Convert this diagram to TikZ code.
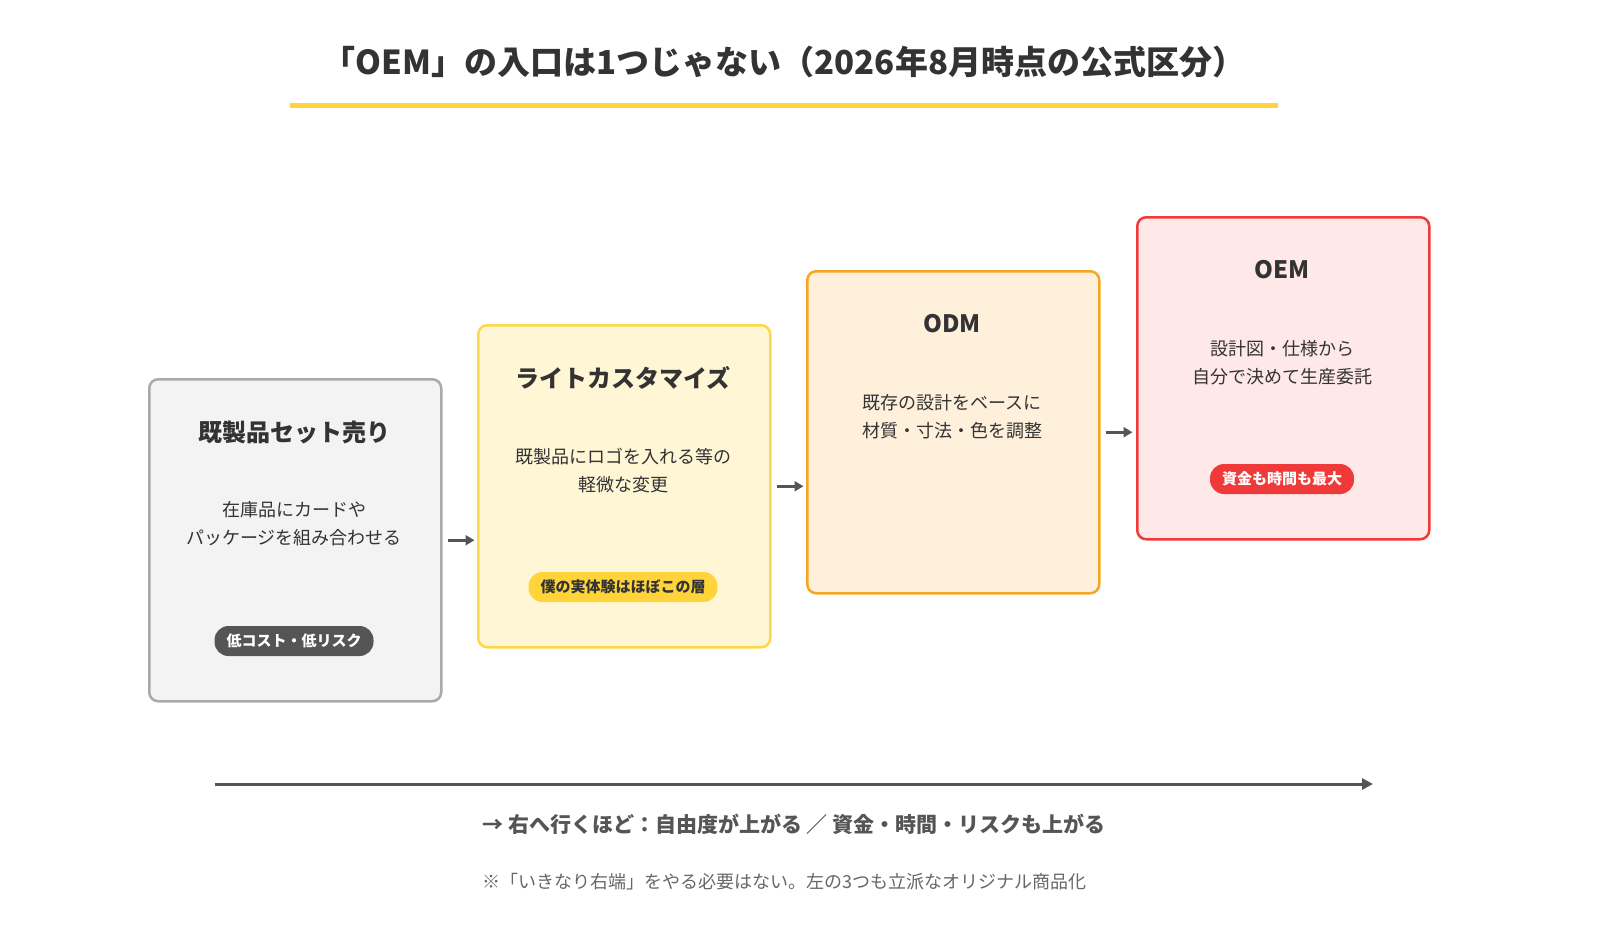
\documentclass[tikz,border=0pt]{standalone}
\usepackage{fontspec}
\setmainfont{Noto Sans CJK JP}
\usetikzlibrary{arrows.meta, positioning}
\definecolor{inkgray}{HTML}{333333}
\definecolor{linegray}{HTML}{555555}
\definecolor{notegray}{HTML}{666666}
\definecolor{grayfill}{HTML}{F3F3F3}
\definecolor{grayline}{HTML}{AAAAAA}
\definecolor{yelfill}{HTML}{FFF6D6}
\definecolor{yelline}{HTML}{FFD84A}
\definecolor{yeltag}{HTML}{FFD43B}
\definecolor{orgfill}{HTML}{FFF0DC}
\definecolor{orgline}{HTML}{F5A623}
\definecolor{redfill}{HTML}{FFE8E8}
\definecolor{redline}{HTML}{F03A3A}
\definecolor{tagdark}{HTML}{555555}
\tikzset{
    step-box/.style={draw, line width=2.5pt, rounded corners=9pt, minimum width=292pt, minimum height=322pt, anchor=north west},
    step-title/.style={font=\fontsize{24}{28}\selectfont\bfseries, text=inkgray},
    step-text/.style={font=\fontsize{18}{28}\selectfont, text=inkgray, align=center},
    step-tag/.style={rounded corners=14pt, inner xsep=12pt, minimum height=30pt, font=\fontsize{15}{18}\selectfont\bfseries},
    step-arrow/.style={-{Triangle[length=9pt,width=10pt]}, line width=2.5pt, draw=linegray},
}
\begin{document}
\begin{tikzpicture}[x=1pt, y=-1pt]
        \useasboundingbox (0,0) rectangle (1600,950);

        % TITLE
        \node[font=\fontsize{33}{40}\selectfont\bfseries, text=inkgray] (TITLE) at (784,62) {「OEM」の入口は1つじゃない（2026年8月時点の公式区分）};
        \coordinate (ULL) at (290,105);
        \coordinate (ULR) at (1278,105);
        \draw[line width=5pt, draw=yeltag] (ULL) -- (ULR);

        % BOXES
        \node[step-box, fill=grayfill, draw=grayline] (S1) at (148,378) {};
        \node[step-box, fill=yelfill, draw=yelline]   (S2) at (477,324) {};
        \node[step-box, fill=orgfill, draw=orgline]   (S3) at (806,270) {};
        \node[step-box, fill=redfill, draw=redline]   (S4) at (1136,216) {};

        % BOX TEXTS
        \node[step-title] (S1T) at (294,432) {既製品セット売り};
        \node[step-text]  (S1D) at (294,524) {在庫品にカードや\\パッケージを組み合わせる};
        \node[step-tag, fill=tagdark, text=white] (S1G) at (294,641) {低コスト・低リスク};

        \node[step-title] (S2T) at (623,378) {ライトカスタマイズ};
        \node[step-text]  (S2D) at (623,471) {既製品にロゴを入れる等の\\軽微な変更};
        \node[step-tag, fill=yeltag, text=inkgray] (S2G) at (623,587) {僕の実体験はほぼこの層};

        \node[step-title] (S3T) at (952,324) {ODM};
        \node[step-text]  (S3D) at (952,417) {既存の設計をベースに\\材質・寸法・色を調整};

        \node[step-title] (S4T) at (1282,270) {OEM};
        \node[step-text]  (S4D) at (1282,363) {設計図・仕様から\\自分で決めて生産委託};
        \node[step-tag, fill=redline, text=white] (S4G) at (1282,479) {資金も時間も最大};

        % STEP ARROWS
        \path (S1.east) ++(5,0) coordinate (A1S);
        \draw[step-arrow] (A1S) -- ++(27,0);
        \path (S2.east) ++(5,0) coordinate (A2S);
        \draw[step-arrow] (A2S) -- ++(27,0);
        \path (S3.east) ++(5,0) coordinate (A3S);
        \draw[step-arrow] (A3S) -- ++(27,0);

        % AXIS
        \coordinate (AXL) at (215,784);
        \coordinate (AXR) at (1373,784);
        \draw[line width=3pt, draw=linegray, -{Triangle[length=11pt,width=11pt]}] (AXL) -- (AXR);
        \node[font=\fontsize{21}{24}\selectfont\bfseries, text=linegray] (AXT) at (794,824) {→ 右へ行くほど：自由度が上がる ／ 資金・時間・リスクも上がる};
        \node[font=\fontsize{18}{22}\selectfont, text=notegray] (NOTE) at (784,882) {※「いきなり右端」をやる必要はない。左の3つも立派なオリジナル商品化};

    \end{tikzpicture}
\end{document}
